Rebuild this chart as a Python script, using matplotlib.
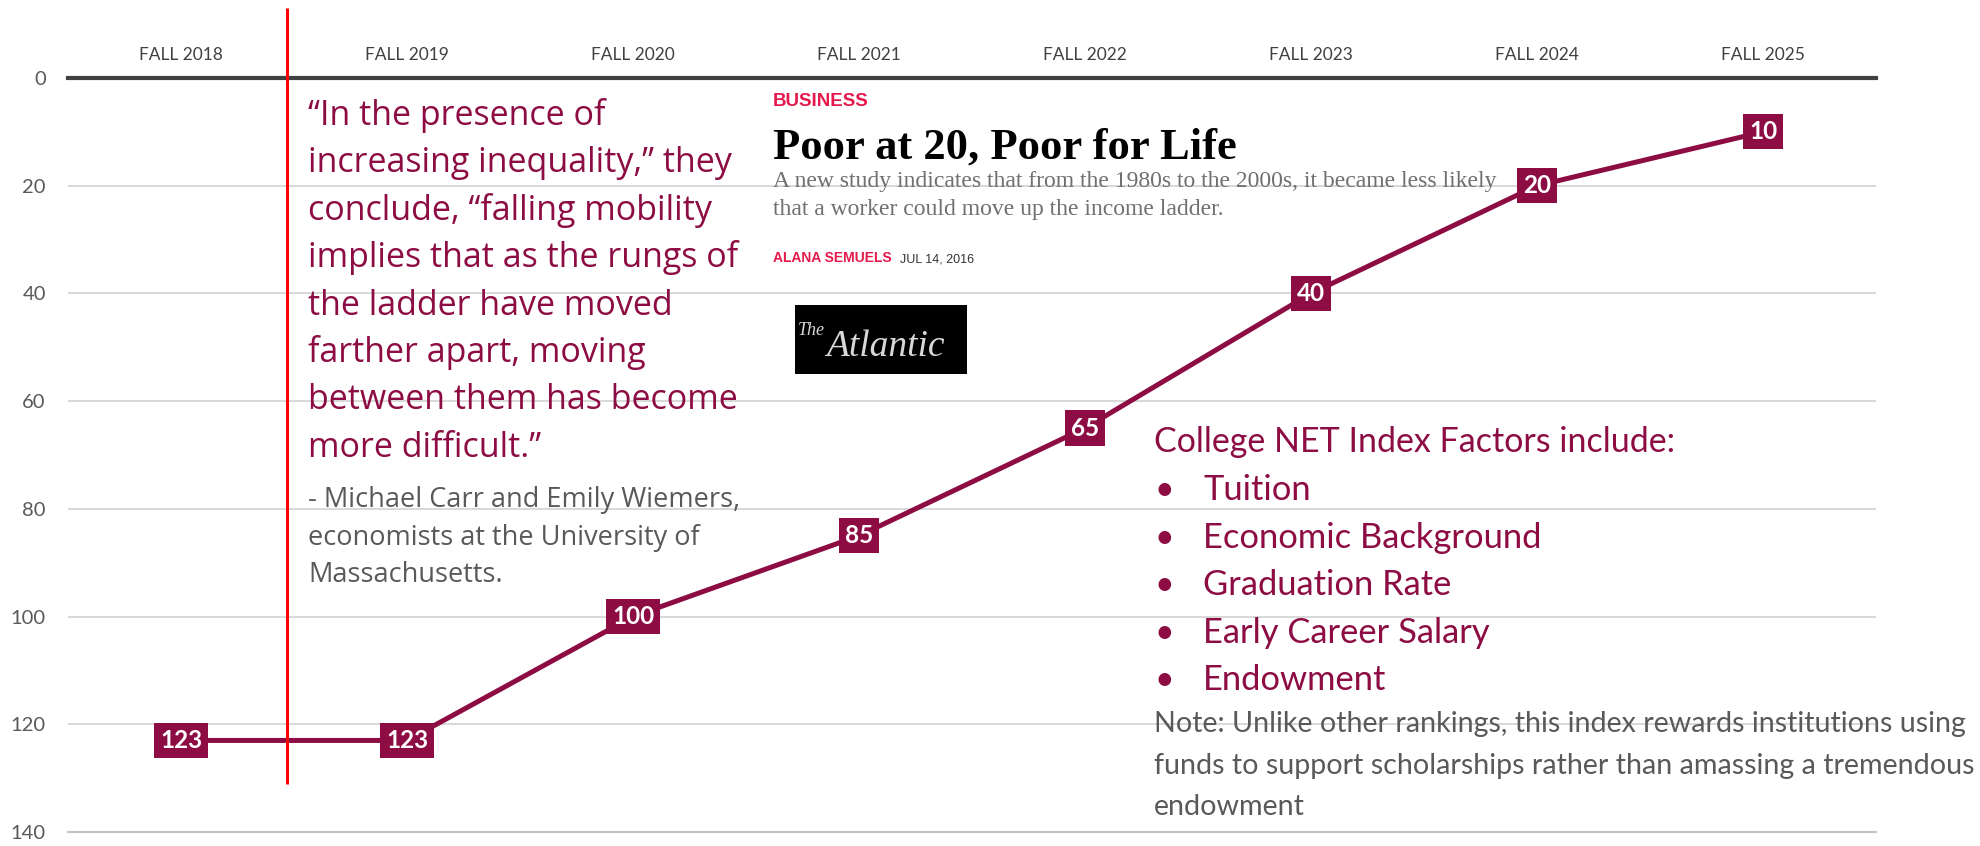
import matplotlib
matplotlib.use("Agg")
import matplotlib.pyplot as plt
from matplotlib.patches import Rectangle

plt.rcParams['font.family'] = ['Lato', 'DejaVu Sans']

# Data
terms = ['FALL 2018', 'FALL 2019', 'FALL 2020', 'FALL 2021',
         'FALL 2022', 'FALL 2023', 'FALL 2024', 'FALL 2025']
ranks = [123, 123, 100, 85, 65, 40, 20, 10]
y_ticks = [0, 20, 40, 60, 80, 100, 120, 140]

quote_lines = [
    "\u201cIn the presence of",
    "increasing inequality,\u201d they",
    "conclude, \u201cfalling mobility",
    "implies that as the rungs of",
    "the ladder have moved",
    "farther apart, moving",
    "between them has become",
    "more difficult.\u201d",
]
attribution_lines = [
    "- Michael Carr and Emily Wiemers,",
    "economists at the University of",
    "Massachusetts.",
]
factors_title = "College NET Index Factors include:"
factors = ["Tuition", "Economic Background", "Graduation Rate",
           "Early Career Salary", "Endowment"]
note_lines = [
    "Note: Unlike other rankings, this index rewards institutions using",
    "funds to support scholarships rather than amassing a tremendous",
    "endowment",
]
article_section = "BUSINESS"
article_title = "Poor at 20, Poor for Life"
article_subtitle = [
    "A new study indicates that from the 1980s to the 2000s, it became less likely",
    "that a worker could move up the income ladder.",
]
article_author = "ALANA SEMUELS"
article_date = "JUL 14, 2016"

MAROON = '#8C0C43'
GRAY_TEXT = '#595959'
QUOTE_FONT = ['Open Sans', 'DejaVu Sans']
W, H = 1980, 846


def px(x, y):
    # figure pixel (from top-left) -> figure fraction
    return x / W, 1 - y / H


fig = plt.figure(figsize=(W / 100, H / 100), dpi=100)
ax = fig.add_axes([68 / W, 1 - 832 / H, (1876 - 68) / W, (832 - 78) / H])

x = list(range(len(terms)))
ax.plot(x, ranks, color=MAROON, lw=3.6, zorder=3, solid_capstyle='butt')
for xi, r in zip(x, ranks):
    ax.text(xi, r, str(r), ha='center', va='center', color='white',
            fontsize=17.5, fontweight='bold', zorder=5,
            bbox=dict(boxstyle='square,pad=0.25', fc=MAROON, ec='none'))

# divider
ax.vlines(0.47, -13, 131, color='#FF0000', lw=2.2, zorder=4, clip_on=False)

ax.set_xlim(-0.5, len(terms) - 0.5)
ax.set_ylim(140, 0)
ax.set_yticks(y_ticks)
ax.set_yticklabels([str(v) for v in y_ticks])
ax.set_xticks(x)
ax.set_xticklabels(terms)
ax.xaxis.tick_top()
ax.tick_params(axis='x', length=0, pad=11, labelsize=12.5, labelcolor='#404040')
ax.tick_params(axis='y', length=0, pad=16, labelsize=14.5, labelcolor=GRAY_TEXT)
for yv in y_ticks[1:-1]:
    ax.axhline(yv, color='#d2d2d2', lw=1.2, zorder=1)
for side in ['left', 'right']:
    ax.spines[side].set_visible(False)
ax.spines['top'].set_color('#404040')
ax.spines['top'].set_linewidth(3)
ax.spines['bottom'].set_color('#c4c4c4')
ax.spines['bottom'].set_linewidth(1.5)

# quote
for i, line in enumerate(quote_lines):
    fig.text(*px(308, 125 + 47.4 * i), line, color=MAROON, fontsize=24.5,
             family=QUOTE_FONT, va='baseline', ha='left')
for i, line in enumerate(attribution_lines):
    fig.text(*px(308, 507 + 37.5 * i), line, color=GRAY_TEXT, fontsize=19.5,
             family=QUOTE_FONT, va='baseline', ha='left')

# factors
fig.text(*px(1154, 452), factors_title, color=MAROON, fontsize=24.5, va='baseline')
for i, f in enumerate(factors):
    yb = 500 + 47.5 * (i)
    fig.text(*px(1154, yb), "\u2022", color=MAROON, fontsize=24.5, va='baseline')
    fig.text(*px(1203, yb), f, color=MAROON, fontsize=24.8, va='baseline')
for i, line in enumerate(note_lines):
    fig.text(*px(1154, 732 + 41.5 * i), line, color=GRAY_TEXT, fontsize=20.6,
             va='baseline')

# article clipping
fig.text(*px(773, 106), article_section, color='#E5194B', fontsize=13.5,
         fontweight='bold', family='Liberation Sans', va='baseline')
fig.text(*px(773, 159), article_title, color='black', fontsize=32,
         fontweight='bold', family='Liberation Serif', va='baseline')
for i, line in enumerate(article_subtitle):
    fig.text(*px(773, 187 + 28 * i), line, color='#707070', fontsize=17,
             family='Liberation Serif', va='baseline')
fig.text(*px(773, 262), article_author, color='#E5194B', fontsize=10,
         fontweight='bold', family='Liberation Sans', va='baseline')
fig.text(*px(900, 262), article_date, color='#333333', fontsize=9,
         family='Liberation Sans', va='baseline')

# logo
fig.patches.append(Rectangle(px(795, 374), (967 - 795) / W, (374 - 305) / H,
                             transform=fig.transFigure, fc='black', ec='none'))
fig.text(*px(798, 335), "The", color='#d8d8d8', fontsize=13, style='italic',
         family='Liberation Serif', va='baseline', zorder=3)
fig.text(*px(826, 356), "Atlantic", color='#d8d8d8', fontsize=27, style='italic',
         family='Liberation Serif', va='baseline', zorder=3)

fig.savefig('out.png', dpi=100, facecolor='white')
